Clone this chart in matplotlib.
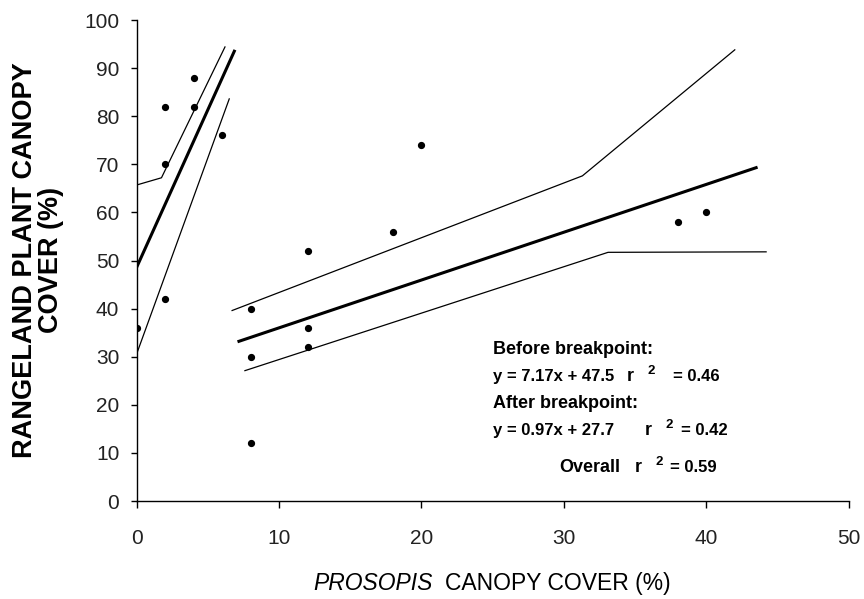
import matplotlib
matplotlib.use("Agg")
import matplotlib.pyplot as plt
from matplotlib import font_manager

# ---- data ----
prosopis_cover = [0, 2, 2, 2, 4, 4, 6, 8, 8, 8, 12, 12, 12, 18, 20, 38, 40]
plant_cover = [36, 42, 70, 82, 82, 88, 76, 40, 30, 12, 52, 36, 32, 56, 74, 58, 60]

# fitted lines (before breakpoint)
fit1_x = [0, 6.9]
fit1_y = [48.6, 93.8]
ci1_upper_x = [0, 1.74, 6.2]
ci1_upper_y = [65.7, 67.2, 94.4]
ci1_lower_x = [0, 6.5]
ci1_lower_y = [30.6, 83.6]

# fitted lines (after breakpoint)
fit2_x = [7.08, 43.6]
fit2_y = [33.1, 69.4]
ci2_upper_x = [6.7, 31.3, 42.0]
ci2_upper_y = [39.6, 67.6, 93.8]
ci2_lower_x = [7.6, 33.1, 44.2]
ci2_lower_y = [27.1, 51.7, 51.8]

x_ticks = [0, 10, 20, 30, 40, 50]
y_ticks = [0, 10, 20, 30, 40, 50, 60, 70, 80, 90, 100]

avail = {f.name for f in font_manager.fontManager.ttflist}
narrow = 'Liberation Sans Narrow' if 'Liberation Sans Narrow' in avail else 'Liberation Sans'
sans = 'Liberation Sans' if 'Liberation Sans' in avail else 'DejaVu Sans'
tick_size = 17 if narrow == 'Liberation Sans Narrow' else 15

fig = plt.figure(figsize=(8.64, 5.99), dpi=100)
ax = fig.add_axes([0.1582, 0.1636, 0.8241, 0.8030])

ax.plot(prosopis_cover, plant_cover, 'o', color='black', ms=4.2, zorder=5)

ax.plot(fit1_x, fit1_y, color='black', lw=2.2, solid_capstyle='butt')
ax.plot(ci1_upper_x, ci1_upper_y, color='black', lw=0.9)
ax.plot(ci1_lower_x, ci1_lower_y, color='black', lw=0.9)
ax.plot(fit2_x, fit2_y, color='black', lw=2.2, solid_capstyle='butt')
ax.plot(ci2_upper_x, ci2_upper_y, color='black', lw=0.9)
ax.plot(ci2_lower_x, ci2_lower_y, color='black', lw=0.9)

ax.set_xlim(0, 50)
ax.set_ylim(0, 100)
ax.set_xticks(x_ticks)
ax.set_yticks(y_ticks)
for s in ['top', 'right']:
    ax.spines[s].set_visible(False)
for s in ['left', 'bottom']:
    ax.spines[s].set_linewidth(1.0)
ax.spines['left'].set_clip_on(False)
ax.tick_params(axis='y', direction='out', length=4, width=1.0, pad=8.5)
ax.tick_params(axis='x', direction='out', length=5, width=1.0, pad=15)
for lab in ax.get_xticklabels() + ax.get_yticklabels():
    lab.set_fontfamily(narrow)
    lab.set_fontsize(tick_size)
    lab.set_color('#222222')

# annotation text
hd = dict(fontfamily=sans, fontweight='bold', fontsize=13, va='baseline', ha='left', color='black')
tk = dict(fontfamily=sans, fontweight='bold', fontsize=12, va='baseline', ha='left', color='black')
sup = dict(fontfamily=sans, fontweight='bold', fontsize=9.5, va='baseline', ha='left', color='black')
ax.text(25.0, 30.6, 'Before breakpoint:', **hd)
ax.text(25.0, 24.9, 'y = 7.17x + 47.5', **tk)
ax.text(34.43, 24.9, 'r', **hd)
ax.text(35.9, 26.4, '2', **sup)
ax.text(37.66, 24.9, '= 0.46', **tk)
ax.text(25.0, 19.3, 'After breakpoint:', **hd)
ax.text(25.0, 13.7, 'y = 0.97x + 27.7', **tk)
ax.text(35.7, 13.7, 'r', **hd)
ax.text(37.1, 15.2, '2', **sup)
ax.text(38.2, 13.7, '= 0.42', **tk)
ax.text(29.66, 6.0, 'Overall', **hd)
ax.text(34.99, 6.0, 'r', **hd)
ax.text(36.4, 7.5, '2', **sup)
ax.text(37.45, 6.0, '= 0.59', **tk)

# y label (two lines, bold)
fig.text(38.5 / 864, 1 - 260 / 599, 'RANGELAND PLANT CANOPY\nCOVER (%)', rotation=90,
         ha='center', va='center', multialignment='center', fontfamily=sans,
         fontweight='bold', fontsize=19.5, linespacing=1.0, color='black')

# x label: italic PROSOPIS + regular rest
fig.text(313 / 864, 1 - 590 / 599, 'PROSOPIS', fontstyle='italic', fontfamily=sans,
         fontsize=16.5, ha='left', va='baseline', color='black')
fig.text(445 / 864, 1 - 590 / 599, 'CANOPY COVER (%)', fontfamily=sans,
         fontsize=16.5, ha='left', va='baseline', color='black')

fig.savefig('out.png', dpi=100)
